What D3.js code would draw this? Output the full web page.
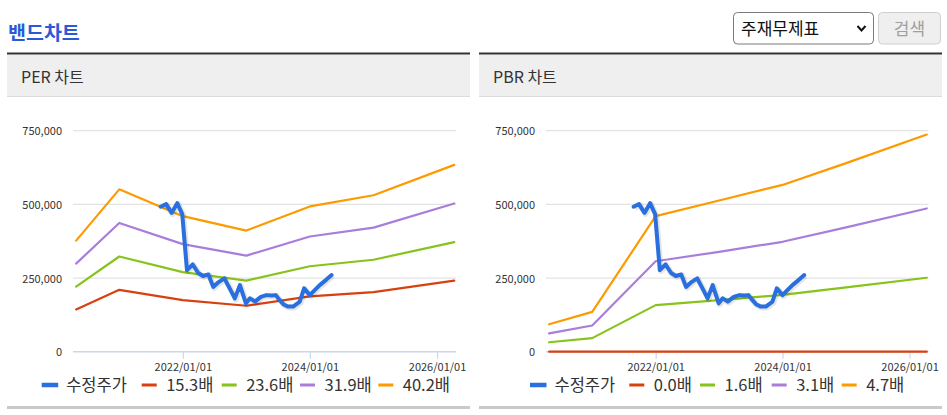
<!DOCTYPE html>
<html><head><meta charset="utf-8">
<script src="https://cdn.jsdelivr.net/npm/d3@7"></script>
<style>
html,body{margin:0;padding:0;background:#fff;}
svg{display:block;font-family:"Malgun Gothic","Noto Sans CJK KR","Noto Sans",sans-serif;}
</style></head>
<body>
<svg id="c" width="947" height="415"></svg>
<script>
// ---------- data ----------
const bandDates = ["2020-04-28","2021-01-01","2022-01-01","2023-01-01","2024-01-01","2025-01-01","2026-04-10"];
const per153 = [143500, 210000, 175000, 156000, 188000, 202000, 241000];
const per236 = [221000, 323000, 270000, 241000, 290000, 312000, 372000];
const per319 = [299000, 437000, 365000, 326000, 391000, 421000, 503000];
const per402 = [377000, 551000, 460000, 411000, 493000, 531000, 634000];
const pbr00 = [0, 0, 0, 0, 0, 0, 0];
const pbr16 = [32000, 46000, 158000, 175000, 193000, 218000, 251000];
const pbr31 = [62000, 89000, 307000, 339000, 373000, 422000, 486000];
const pbr47 = [93000, 135000, 460000, 513000, 566000, 640000, 737000];
const priceDates = ["2021-08-27","2021-09-27","2021-10-29","2021-11-30","2021-12-29","2022-01-25","2022-02-27","2022-03-31","2022-04-27","2022-05-28","2022-06-25","2022-07-28","2022-08-28","2022-09-29","2022-10-27","2022-11-25","2022-12-30","2023-01-22","2023-02-20","2023-03-26","2023-04-27","2023-05-28","2023-06-19","2023-07-12","2023-08-04","2023-08-29","2023-09-27","2023-10-18","2023-11-04","2023-11-29","2024-01-01","2024-01-29","2024-02-27","2024-04-02","2024-05-05"];
const price = [492000,501000,471000,504000,467000,277000,296000,267000,257000,262000,220000,237000,249000,213000,181000,226000,164000,181000,170000,186000,192000,191000,192000,175000,160000,153000,153000,162000,170000,215000,192000,209000,226000,243000,260000];
const yTicks = [0, 250000, 500000, 750000];
const xTickDates = ["2022-01-01","2024-01-01","2026-01-01"];
const xTickLabels = ["2022/01/01","2024/01/01","2026/01/01"];
const perNames = ["수정주가","15.3배","23.6배","31.9배","40.2배"];
const pbrNames = ["수정주가","0.0배","1.6배","3.1배","4.7배"];
const colors = ["#2a6fdf","#d8400f","#87c31b","#a97ddc","#fd9a00"];

// ---------- drawing ----------
const parse = d3.timeParse("%Y-%m-%d");
const svg = d3.select("#c");
const fmt = d3.format(",");

// header
svg.append("text").attr("x",8).attr("y",39.5).attr("font-size",19.5).attr("font-weight","bold")
  .attr("fill","#2b5ad8").text("밴드차트");
// select box
svg.append("rect").attr("x",733.5).attr("y",12.5).attr("width",140).attr("height",31.5).attr("rx",4)
  .attr("fill","#fff").attr("stroke","#7a7a7a");
svg.append("text").attr("x",741).attr("y",35).attr("font-size",17).attr("fill","#111").text("주재무제표");
svg.append("path").attr("d","M857.5,26 L861.5,30.5 L865.5,26").attr("fill","none").attr("stroke","#111").attr("stroke-width",2);
svg.append("rect").attr("x",878.5).attr("y",12.5).attr("width",62).attr("height",31.5).attr("rx",4)
  .attr("fill","#efefef").attr("stroke","#cfcfcf");
svg.append("text").attr("x",909.5).attr("y",35).attr("font-size",17).attr("fill","#a0a0a0")
  .attr("text-anchor","middle").text("검색");

const panels = [
  {x0:7, x1:470, title:"PER 차트", pl:73, pr:456, bands:[per153,per236,per319,per402], names:perNames,
   legendX:[41.7,141.7,221.7,300,378.3]},
  {x0:479, x1:942, title:"PBR 차트", pl:546, pr:928.5, bands:[pbr00,pbr16,pbr31,pbr47], names:pbrNames,
   legendX:[530,629.3,700,771.7,841.7]}
];

const domain = [parse("2020-04-10"), parse("2026-04-20")];

panels.forEach(p => {
  const g = svg.append("g");
  g.append("rect").attr("x",p.x0).attr("y",52.5).attr("width",p.x1-p.x0).attr("height",2.2).attr("fill","#333");
  g.append("rect").attr("x",p.x0).attr("y",54.7).attr("width",p.x1-p.x0).attr("height",41.3).attr("fill","#efefef");
  g.append("rect").attr("x",p.x0).attr("y",96).attr("width",p.x1-p.x0).attr("height",1).attr("fill","#dcdcdc");
  g.append("text").attr("x",p.x0+14).attr("y",83).attr("font-size",16).attr("fill","#333").text(p.title);
  g.append("rect").attr("x",p.x0).attr("y",406).attr("width",p.x1-p.x0).attr("height",3).attr("fill","#c9c9c9");

  const x = d3.scaleTime().domain(domain).range([p.pl, p.pr]);
  const y = d3.scaleLinear().domain([0, 750000]).range([351.7, 130.7]);

  // grid
  g.selectAll(".grid").data(yTicks.filter(t=>t>0)).enter().append("line")
    .attr("x1",p.pl).attr("x2",p.pr).attr("y1",d=>y(d)).attr("y2",d=>y(d))
    .attr("stroke","#e3e3e3").attr("stroke-width",1.2);
  // y labels
  g.selectAll(".yl").data(yTicks).enter().append("text")
    .attr("x",p.pl-11).attr("y",d=>y(d)+4.5).attr("text-anchor","end")
    .attr("font-size",11).attr("fill","#333").text(d=>fmt(d));
  // x axis
  const xAxis = d3.axisBottom(x).tickValues(xTickDates.map(parse)).tickSize(7)
    .tickFormat((d,i)=>xTickLabels[i]);
  const ax = g.append("g").attr("transform",`translate(0,${y(0)})`).call(xAxis);
  ax.select(".domain").attr("stroke","#ccd6eb").attr("stroke-width",1.5).attr("d",`M${p.pl},0H${p.pr}`);
  ax.selectAll(".tick line").attr("stroke","#ccd6eb").attr("stroke-width",1.2);
  ax.selectAll(".tick text").attr("font-size",11).attr("fill","#333").attr("dy",0).attr("y",19)
    .attr("font-family",'"Malgun Gothic","Noto Sans CJK KR","Noto Sans",sans-serif');

  const line = d3.line().x(d=>x(d[0])).y(d=>y(d[1]));
  // bands
  p.bands.forEach((vals,i)=>{
    const pts = bandDates.map((d,j)=>[parse(d), vals[j]]);
    g.append("path").attr("d",line(pts)).attr("fill","none").attr("stroke",colors[i+1])
      .attr("stroke-width",2.2).attr("stroke-linejoin","round").attr("stroke-linecap","round");
  });
  // price
  const pp = priceDates.map((d,j)=>[parse(d), price[j]]);
  g.append("path").attr("d",line(pp)).attr("fill","none").attr("stroke","rgba(0,0,0,0.10)")
    .attr("stroke-width",6).attr("transform","translate(1,1)").attr("stroke-linejoin","round");
  g.append("path").attr("d",line(pp)).attr("fill","none").attr("stroke",colors[0])
    .attr("stroke-width",4).attr("stroke-linejoin","round").attr("stroke-linecap","round");

  // legend
  p.names.forEach((n,i)=>{
    const lx = p.legendX[i];
    const w = i===0 ? 16.5 : 15;
    g.append("line").attr("x1",lx).attr("x2",lx+w).attr("y1",385).attr("y2",385)
      .attr("stroke",colors[i]).attr("stroke-width", i===0?4.5:3);
    g.append("text").attr("x",lx+24.5).attr("y",391).attr("font-size",16.5).attr("fill","#333").text(n);
  });
});
</script>
</body></html>
